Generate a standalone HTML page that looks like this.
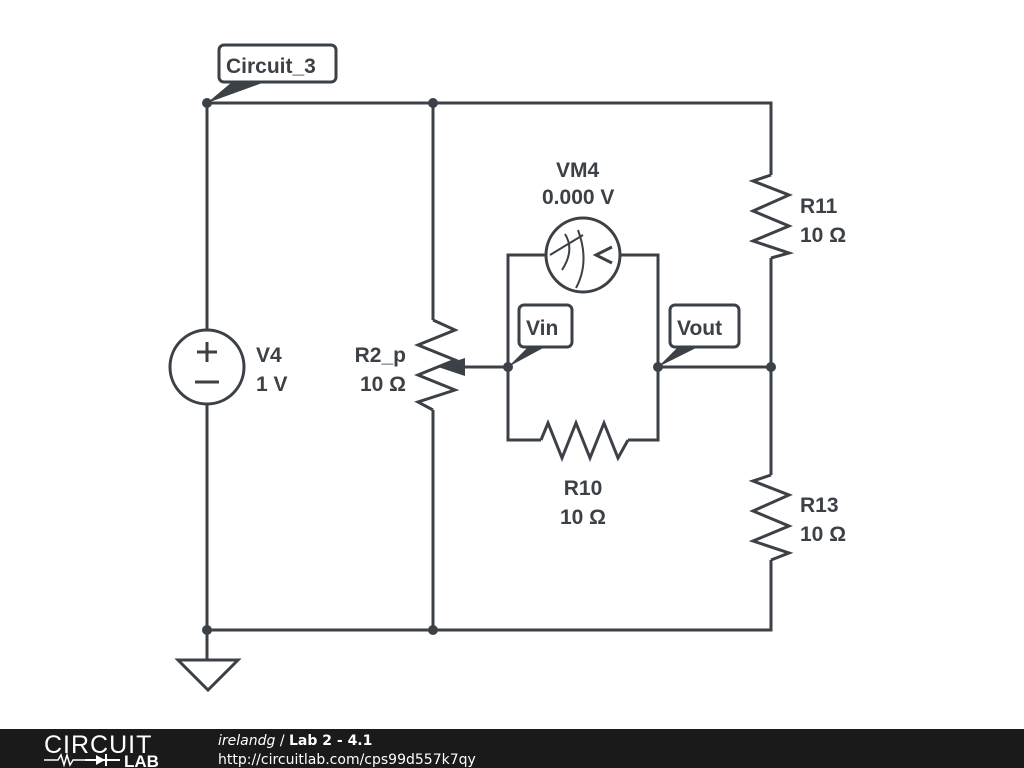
<!DOCTYPE html>
<html><head><meta charset="utf-8"><style>
html,body{margin:0;padding:0;background:#fff;}
svg{display:block;}
text{font-family:"Liberation Sans",sans-serif;font-weight:bold;fill:#3b4146;}
</style></head><body>
<svg width="1024" height="768" viewBox="0 0 1024 768" xmlns="http://www.w3.org/2000/svg">
<g stroke="#3b4146" stroke-width="3" fill="none" stroke-linejoin="miter">
<path d="M207 103H771V175M207 630H771V560M207 103V330M207 404V660M433 103V320M433 410V630M771 258V475"/>
<path d="M178 660H238L208 690Z"/>
<circle cx="207" cy="367" r="37"/>
<path d="M197 352H217M207 342V362M195 382H219"/>
<polyline points="433,320 455,330 418,345 455,360 418,375 455,390 418,402 433,410"/>
<path d="M508 367H460"/>
<polyline points="771,175 753,181 789,195 753,211 789,226 753,241 789,253 771,258"/>
<polyline points="771,475 753,481 789,495 753,511 789,526 753,541 789,553 771,560"/>
<path d="M546 255H508V440H541M620 255H658V440H628M658 367H771"/>
<polyline points="541,440 548,423 562,458 576,423 590,458 604,423 618,458 628,440"/>
<circle cx="583" cy="255" r="37"/>
<path d="M550 255 L583 235 M562 270 Q575 250 565 234 M576 288 Q590 262 578 230" stroke-width="2"/>
<path d="M612 247 L596 255 L612 263" stroke-width="3"/>
<rect x="219" y="45" width="117" height="37" rx="5" fill="#fff"/>
<rect x="519" y="305" width="53" height="42" rx="5" fill="#fff"/>
<rect x="670" y="305" width="69" height="42" rx="5" fill="#fff"/>
</g>
<g fill="#3b4146">
<polygon points="438,367 465,358 465,376"/>
<polygon points="207,103 232,82 265,82"/>
<polygon points="508,367 528,347 545,347"/>
<polygon points="658,367 678,347 698,347"/>
<circle cx="207" cy="103" r="5"/><circle cx="433" cy="103" r="5"/>
<circle cx="207" cy="630" r="5"/><circle cx="433" cy="630" r="5"/>
<circle cx="508" cy="367" r="5"/><circle cx="658" cy="367" r="5"/><circle cx="771" cy="367" r="5"/>
</g>
<g font-size="21">
<text x="226" y="73">Circuit_3</text>
<text x="526" y="335">Vin</text>
<text x="677" y="335">Vout</text>
<text x="556" y="177">VM4</text>
<text x="542" y="204">0.000 V</text>
<text x="256" y="362">V4</text>
<text x="256" y="391">1 V</text>
<text x="406" y="362" text-anchor="end">R2_p</text>
<text x="406" y="391" text-anchor="end">10 Ω</text>
<text x="800" y="213">R11</text>
<text x="800" y="242">10 Ω</text>
<text x="800" y="512">R13</text>
<text x="800" y="541">10 Ω</text>
<text x="583" y="495" text-anchor="middle">R10</text>
<text x="583" y="524" text-anchor="middle">10 Ω</text>
</g>
<rect x="0" y="729" width="1024" height="39" fill="#1a1a1a"/>
<text x="44" y="753" style="font-weight:normal;fill:#fff;font-size:25px;letter-spacing:1px">CIRCUIT</text>
<path d="M44 760H58L61 755L64 765L67 755L70 765L73 760H85" stroke="#fff" stroke-width="1.5" fill="none"/>
<polygon points="96,755 96,765 105,760" fill="#fff"/>
<path d="M85 760H120M106 754V766" stroke="#fff" stroke-width="2"/>
<text x="124" y="767" style="fill:#fff;font-size:17px">LAB</text>
<text x="218" y="745" style="font-family:'DejaVu Sans',sans-serif;font-weight:normal;fill:#fff;font-size:14px"><tspan font-style="italic">irelandg</tspan> / <tspan font-weight="bold">Lab 2 - 4.1</tspan></text>
<text x="218" y="764" style="font-family:'DejaVu Sans',sans-serif;font-weight:normal;fill:#fff;font-size:14px">http://circuitlab.com/cps99d557k7qy</text>
</svg>
</body></html>
